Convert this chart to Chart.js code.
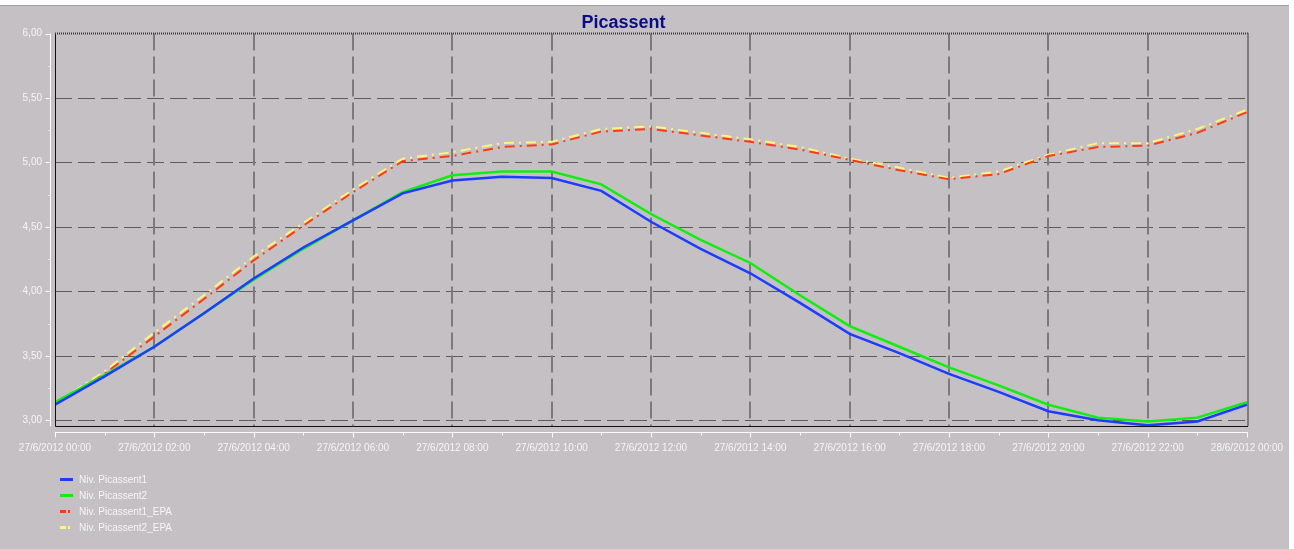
<!DOCTYPE html>
<html lang="es">
<head>
<meta charset="UTF-8" />
<title>Picassent</title>
<script src="https://cdn.jsdelivr.net/npm/chart.js"></script>
<style>
  * { margin: 0; padding: 0; box-sizing: border-box; }
  body { background: #c4c0c4; width: 1294px; height: 549px; overflow: hidden; }
  canvas { display: block; }
</style>
</head>
<body>
<canvas id="chart" width="1294" height="549"></canvas>
<script>
// hours since 27/6/2012 00:00
const hours = [0, 1, 2, 3, 4, 5, 6, 7, 8, 9, 10, 11, 12, 13, 14, 15, 16, 17, 18, 19, 20, 21, 22, 23, 24];
const xTickHours = [0, 2, 4, 6, 8, 10, 12, 14, 16, 18, 20, 22, 24];
const xTickLabels = ['27/6/2012 00:00', '27/6/2012 02:00', '27/6/2012 04:00', '27/6/2012 06:00',
  '27/6/2012 08:00', '27/6/2012 10:00', '27/6/2012 12:00', '27/6/2012 14:00', '27/6/2012 16:00',
  '27/6/2012 18:00', '27/6/2012 20:00', '27/6/2012 22:00', '28/6/2012 00:00'];
const yTicks = [3.0, 3.5, 4.0, 4.5, 5.0, 5.5, 6.0];

const nivPicassent1 = [3.12, 3.34, 3.57, 3.83, 4.10, 4.34, 4.55, 4.76, 4.86, 4.89, 4.88, 4.78, 4.54,
  4.33, 4.14, 3.91, 3.67, 3.52, 3.36, 3.22, 3.07, 3.00, 2.96, 2.99, 3.12];
const nivPicassent2 = [3.14, 3.35, 3.57, 3.83, 4.09, 4.33, 4.55, 4.77, 4.90, 4.93, 4.93, 4.83, 4.60,
  4.40, 4.22, 3.97, 3.73, 3.57, 3.41, 3.27, 3.12, 3.02, 2.99, 3.02, 3.14];
const nivPicassent1EPA = [3.12, 3.36, 3.65, 3.94, 4.24, 4.51, 4.77, 5.01, 5.05, 5.12, 5.14, 5.24, 5.26,
  5.21, 5.16, 5.10, 5.02, 4.94, 4.87, 4.91, 5.05, 5.12, 5.13, 5.23, 5.39];
const nivPicassent2EPA = [3.13, 3.38, 3.68, 3.97, 4.27, 4.53, 4.79, 5.03, 5.08, 5.15, 5.16, 5.26, 5.28,
  5.23, 5.18, 5.12, 5.03, 4.96, 4.88, 4.93, 5.06, 5.15, 5.15, 5.26, 5.41];

const seriesNames = ['Niv. Picassent1', 'Niv. Picassent2', 'Niv. Picassent1_EPA', 'Niv. Picassent2_EPA'];

const FONT = 'Liberation Sans, Arial, sans-serif';
const textColor = '#f6f6f6';

function pts(vals) {
  return vals.map((v, i) => ({ x: hours[i], y: v }));
}

// panel background + white frame strips
const backdrop = {
  id: 'backdrop',
  beforeDraw(chart) {
    const ctx = chart.ctx;
    ctx.save();
    ctx.fillStyle = '#c4c0c4';
    ctx.fillRect(0, 0, chart.width, chart.height);
    ctx.fillStyle = '#ffffff';
    ctx.fillRect(0, 0, chart.width, 5);
    ctx.fillRect(1289, 0, chart.width - 1289, chart.height);
    ctx.fillStyle = '#a0a0a0';
    ctx.fillRect(0, 5, 1289, 1);
    ctx.restore();
  }
};

// dashed grid, plot frame, white axes with tick marks
const gridAxes = {
  id: 'gridAxes',
  beforeDatasetsDraw(chart) {
    const { ctx, chartArea: a, scales: { x, y } } = chart;
    ctx.save();
    ctx.setLineDash([17, 6]);
    ctx.strokeStyle = '#5c5c5c';
    ctx.lineWidth = 1;
    yTicks.slice(0, -1).forEach(v => {
      const py = Math.round(y.getPixelForValue(v)) + 0.5;
      ctx.beginPath(); ctx.moveTo(a.left, py); ctx.lineTo(a.right, py); ctx.stroke();
    });
    ctx.strokeStyle = '#7c7a7c';
    ctx.lineWidth = 2;
    xTickHours.slice(1, -1).forEach(h => {
      const px = Math.round(x.getPixelForValue(h));
      ctx.beginPath(); ctx.moveTo(px, a.top); ctx.lineTo(px, a.bottom); ctx.stroke();
    });
    ctx.setLineDash([]);

    // white y axis
    ctx.strokeStyle = '#ffffff';
    ctx.lineWidth = 1;
    const ax = a.left - 4.5;
    ctx.beginPath(); ctx.moveTo(ax, a.top); ctx.lineTo(ax, a.bottom); ctx.stroke();
    yTicks.forEach((v, i) => {
      const py = Math.round(y.getPixelForValue(v)) + 0.5;
      ctx.beginPath(); ctx.moveTo(ax - 5, py); ctx.lineTo(ax, py); ctx.stroke();
      if (i < yTicks.length - 1) {
        const pm = Math.round(y.getPixelForValue((v + yTicks[i + 1]) / 2)) + 0.5;
        ctx.beginPath(); ctx.moveTo(ax - 2, pm); ctx.lineTo(ax, pm); ctx.stroke();
      }
    });
    // white x axis
    const ay = a.bottom + 6.5;
    ctx.beginPath(); ctx.moveTo(a.left, ay); ctx.lineTo(a.right + 1, ay); ctx.stroke();
    xTickHours.forEach((h, i) => {
      const px = Math.round(x.getPixelForValue(h)) + 0.5;
      ctx.beginPath(); ctx.moveTo(px, ay); ctx.lineTo(px, ay + 5); ctx.stroke();
      if (i < xTickHours.length - 1) {
        const pm = Math.round(x.getPixelForValue((h + xTickHours[i + 1]) / 2)) + 0.5;
        ctx.beginPath(); ctx.moveTo(pm, ay); ctx.lineTo(pm, ay + 3); ctx.stroke();
      }
    });
    ctx.restore();
  },
  afterDatasetsDraw(chart) {
    const { ctx, chartArea: a } = chart;
    ctx.save();
    ctx.strokeStyle = '#101010';
    ctx.lineWidth = 1;
    ctx.beginPath();
    ctx.moveTo(a.left + 0.5, a.top); ctx.lineTo(a.left + 0.5, a.bottom + 0.5);
    ctx.lineTo(a.right + 1, a.bottom + 0.5);
    ctx.stroke();
    ctx.strokeStyle = '#3a3a3a';
    ctx.lineWidth = 2;
    ctx.setLineDash([1, 1]);
    ctx.beginPath();
    ctx.moveTo(a.left, a.top); ctx.lineTo(a.right + 1, a.top);
    ctx.moveTo(a.right + 1, a.top); ctx.lineTo(a.right + 1, a.bottom);
    ctx.stroke();
    ctx.restore();
  }
};

// vertical legend under the x axis
const sideLegend = {
  id: 'sideLegend',
  afterDraw(chart) {
    const ctx = chart.ctx;
    ctx.save();
    ctx.font = '10px ' + FONT;
    ctx.textBaseline = 'middle';
    chart.data.datasets.forEach((ds, i) => {
      const ly = 479 + i * 16;
      ctx.strokeStyle = ds.borderColor;
      ctx.lineWidth = 3;
      ctx.setLineDash(ds.legendDash || []);
      ctx.beginPath(); ctx.moveTo(60, ly + 0.5); ctx.lineTo(73, ly + 0.5); ctx.stroke();
      ctx.setLineDash([]);
      ctx.fillStyle = textColor;
      ctx.fillText(ds.label, 79, ly + 1);
    });
    ctx.restore();
  }
};

new Chart(document.getElementById('chart'), {
  type: 'line',
  data: {
    datasets: [
      { label: seriesNames[0], data: pts(nivPicassent1), borderColor: '#1c3cff', borderWidth: 2.5 },
      { label: seriesNames[1], data: pts(nivPicassent2), borderColor: '#10ee10', borderWidth: 2.5 },
      { label: seriesNames[2], data: pts(nivPicassent1EPA), borderColor: '#ff3a10', borderWidth: 2,
        borderDash: [10, 5, 2, 5], legendDash: [6, 2, 2, 10] },
      { label: seriesNames[3], data: pts(nivPicassent2EPA), borderColor: '#fff47c', borderWidth: 2,
        borderDash: [10, 5, 2, 5], legendDash: [6, 2, 2, 10] }
    ]
  },
  options: {
    responsive: false,
    animation: false,
    devicePixelRatio: 1,
    layout: { padding: { left: 0, right: 47, top: 0, bottom: 0 } },
    elements: { point: { radius: 0 }, line: { tension: 0 } },
    plugins: {
      legend: { display: false },
      tooltip: { enabled: false },
      title: {
        display: true,
        text: 'Picassent',
        color: '#0c0c84',
        font: { family: FONT, size: 18, weight: 'bold' },
        padding: { top: 12, bottom: 0 }
      }
    },
    scales: {
      x: {
        type: 'linear',
        min: 0,
        max: 24,
        grid: { display: false, drawTicks: false },
        border: { display: false },
        afterBuildTicks: s => { s.ticks = xTickHours.map(v => ({ value: v })); },
        afterFit: s => { s.height = 123; s.paddingLeft = 0; s.paddingRight = 0; },
        ticks: {
          autoSkip: false,
          maxRotation: 0,
          padding: 16,
          color: textColor,
          font: { family: FONT, size: 10 },
          callback: (v, i) => xTickLabels[i]
        }
      },
      y: {
        min: 2.955,
        max: 6,
        grid: { display: false, drawTicks: false },
        border: { display: false },
        afterBuildTicks: s => { s.ticks = yTicks.map(v => ({ value: v })); },
        afterFit: s => { s.width = 55; s.paddingTop = 0; s.paddingBottom = 0; },
        ticks: {
          padding: 13,
          color: textColor,
          font: { family: FONT, size: 10 },
          callback: v => v.toFixed(2).replace('.', ',')
        }
      }
    }
  },
  plugins: [backdrop, gridAxes, sideLegend]
});
</script>
</body>
</html>
